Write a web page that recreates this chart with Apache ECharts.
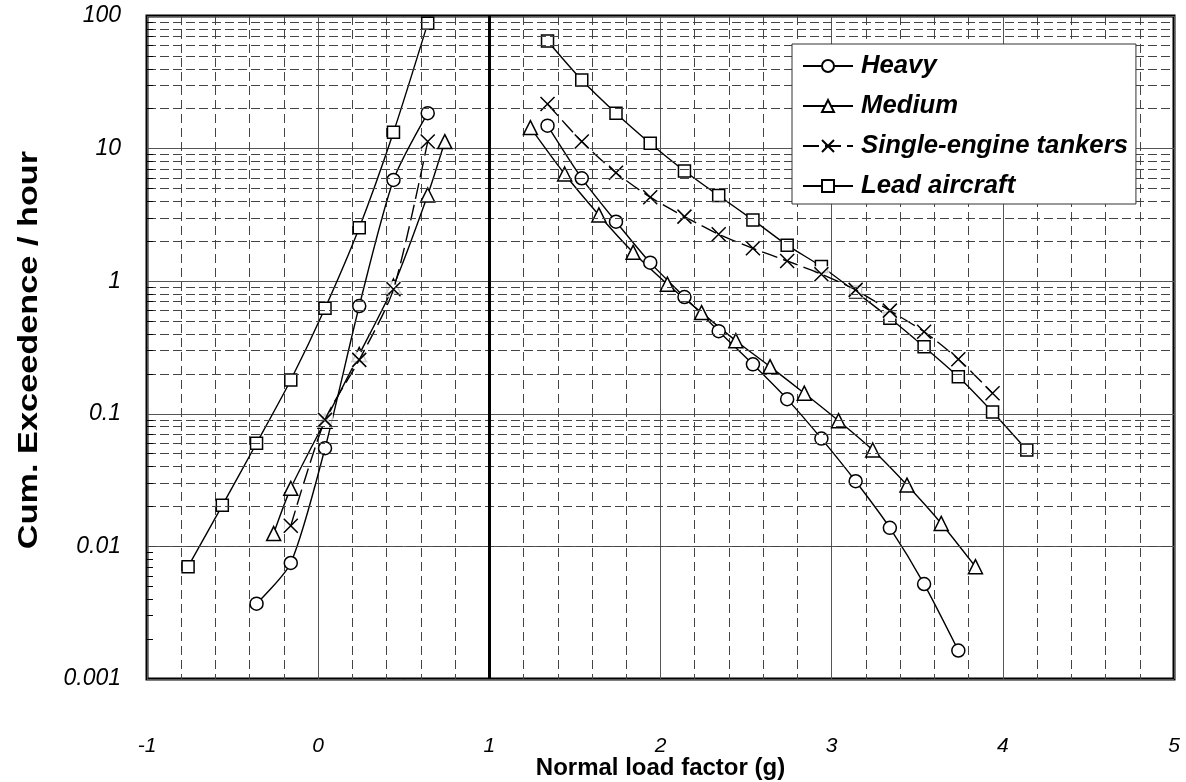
<!DOCTYPE html>
<html>
<head>
<meta charset="utf-8">
<script src="https://cdn.jsdelivr.net/npm/echarts@6/dist/echarts.min.js"></script>
<style>
html,body{margin:0;padding:0;background:#fff;}
#chart{width:1186px;height:782px;}
</style>
</head>
<body>
<div id="chart"></div>
<script>
// ---- Data ----
const seriesNames = ['Heavy', 'Medium', 'Single-engine tankers', 'Lead aircraft'];

const heavyLeftX  = [-0.36, -0.16, 0.04, 0.24, 0.44, 0.64];
const heavyLeftY  = [0.0037, 0.0075, 0.055, 0.65, 5.8, 18.5];
const heavyRightX = [1.34, 1.54, 1.74, 1.94, 2.14, 2.34, 2.54, 2.74, 2.94, 3.14, 3.34, 3.54, 3.74];
const heavyRightY = [14.9, 5.97, 2.81, 1.38, 0.76, 0.42, 0.236, 0.129, 0.065, 0.031, 0.0138, 0.0052, 0.00164];

const mediumLeftX  = [-0.26, -0.16, 0.04, 0.24, 0.44, 0.64, 0.74];
const mediumLeftY  = [0.0125, 0.0274, 0.088, 0.28, 0.92, 4.47, 11.3];
const mediumRightX = [1.24, 1.44, 1.64, 1.84, 2.04, 2.24, 2.44, 2.64, 2.84, 3.04, 3.24, 3.44, 3.64, 3.84];
const mediumRightY = [14.4, 6.43, 3.16, 1.65, 0.95, 0.58, 0.356, 0.227, 0.143, 0.0887, 0.0533, 0.029, 0.0149, 0.00703];

const tankerLeftX  = [-0.16, 0.04, 0.24, 0.44, 0.64];
const tankerLeftY  = [0.0143, 0.09, 0.255, 0.87, 11.3];
const tankerRightX = [1.34, 1.54, 1.74, 1.94, 2.14, 2.34, 2.54, 2.74, 2.94, 3.14, 3.34, 3.54, 3.74, 3.94];
const tankerRightY = [21.7, 11.3, 6.58, 4.3, 3.07, 2.26, 1.77, 1.42, 1.13, 0.86, 0.6, 0.416, 0.258, 0.143];

const leadLeftX  = [-0.76, -0.56, -0.36, -0.16, 0.04, 0.24, 0.44, 0.64];
const leadLeftY  = [0.00703, 0.0204, 0.06, 0.18, 0.625, 2.53, 13.3, 88];
const leadRightX = [1.34, 1.54, 1.74, 1.94, 2.14, 2.34, 2.54, 2.74, 2.94, 3.14, 3.34, 3.54, 3.74, 3.94, 4.14];
const leadRightY = [64.8, 32.9, 18.5, 10.96, 6.78, 4.42, 2.9, 1.87, 1.29, 0.83, 0.525, 0.32, 0.19, 0.103, 0.0533];

const xTickLabels = ['-1', '0', '1', '2', '3', '4', '5'];
const yTickValues = [0.001, 0.01, 0.1, 1, 10, 100];
const yTickLabels = ['0.001', '0.01', '0.1', '1', '10', '100'];
const xTitle = 'Normal load factor (g)';
const yTitle = 'Cum. Exceedence / hour';

// ---- Helpers ----
function pairs(xs, ys) { return xs.map((x, i) => [x, ys[i]]); }

// minor log grid values (2..9 per decade)
const minorY = [];
for (let d = 0; d < yTickValues.length - 1; d++) {
  for (let m = 2; m <= 9; m++) minorY.push(+(yTickValues[d] * m).toPrecision(3));
}

const FONT = '"Liberation Sans", Arial, sans-serif';
const CROSS = 'path://M0,0L10,10M10,0L0,10';
const lineBase = { color: '#000', width: 1.4 };
const markerStyle = { color: '#fff', borderColor: '#000', borderWidth: 1.5 };
const SMOOTH = 0.25;

function mkLine(name, data, symbol, size, dashed, z) {
  return {
    name: name, type: 'line', data: data, smooth: SMOOTH,
    symbol: symbol, symbolSize: size, showAllSymbol: true,
    lineStyle: Object.assign({}, lineBase, dashed ? { type: [16, 6] } : { type: 'solid' }),
    itemStyle: symbol === CROSS ? { color: 'none', borderColor: '#000', borderWidth: 1.5 } : markerStyle,
    emphasis: { disabled: true }, z: z, animation: false
  };
}

const tankerAll = pairs(tankerLeftX, tankerLeftY).concat(pairs(tankerRightX, tankerRightY));

const option = {
  backgroundColor: '#fff',
  animation: false,
  grid: { left: 147, right: 12, top: 16, bottom: 103, show: true, borderColor: '#000', borderWidth: 3,
    backgroundColor: 'transparent', containLabel: false, outerBoundsMode: 'none' },
  legend: {
    data: seriesNames,
    orient: 'vertical', left: 792, top: 44,
    backgroundColor: '#fff', borderColor: '#333', borderWidth: 1,
    padding: [9, 8, 5, 10], itemGap: 14, itemWidth: 50, itemHeight: 15,
    textStyle: { fontFamily: FONT, fontSize: 25.7, fontWeight: 'bold', fontStyle: 'italic', color: '#000', padding: [0, 0, 0, 3] },
    selectedMode: false, z: 10
  },
  graphic: [{
    type: 'text', x: 30, y: 350, rotation: Math.PI / 2, scaleX: 1.27, silent: true, z: 10,
    style: { text: yTitle, font: 'bold 27px ' + FONT, fill: '#000', align: 'center', verticalAlign: 'middle' }
  }],
  xAxis: {
    type: 'value', min: -1, max: 5, interval: 1,
    name: xTitle, nameLocation: 'middle', nameGap: 77, nameMoveOverlap: false,
    nameTextStyle: { fontFamily: FONT, fontSize: 24, fontWeight: 'bold', color: '#000' },
    axisLine: { show: false }, axisTick: { show: false },
    axisLabel: { margin: 57, fontFamily: FONT, fontSize: 21, fontStyle: 'italic', color: '#000',
      formatter: v => xTickLabels[Math.round(v) + 1] },
    splitLine: { show: true, lineStyle: { color: '#555', width: 1 } },
    minorTick: { show: false, splitNumber: 5 },
    minorSplitLine: { show: true, lineStyle: { color: '#444', width: 1, type: [9, 5] } }
  },
  yAxis: {
    type: 'log', logBase: 10, min: 0.001, max: 100, splitNumber: 5,
    axisLine: { show: false }, axisTick: { show: false },
    axisLabel: { margin: 26, fontFamily: FONT, fontSize: 23, fontStyle: 'italic', color: '#000',
      formatter: v => { const i = yTickValues.findIndex(t => Math.abs(Math.log10(t) - Math.log10(v)) < 1e-6); return i >= 0 ? yTickLabels[i] : ''; } },
    splitLine: { show: true, lineStyle: { color: '#555', width: 1 } }
  },
  series: [
    {
      type: 'line', data: [], silent: true, z: 1, animation: false,
      markLine: {
        silent: true, symbol: 'none', label: { show: false }, animation: false,
        data: minorY.map(v => ({ yAxis: v, lineStyle: { color: '#444', width: 1, type: [9, 4] } }))
          .concat(minorY.map(v => [{ coord: [-1, v], lineStyle: { color: '#000', width: 1, type: 'solid' } }, { coord: [-0.965, v] }]))
          .concat([{ xAxis: 1, lineStyle: { color: '#000', width: 3, type: 'solid' } }])
      }
    },
    mkLine('Heavy', pairs(heavyLeftX, heavyLeftY), 'circle', 13, false, 2),
    mkLine('Heavy', pairs(heavyRightX, heavyRightY), 'circle', 13, false, 2),
    mkLine('Medium', pairs(mediumLeftX, mediumLeftY), 'triangle', 14, false, 2),
    mkLine('Medium', pairs(mediumRightX, mediumRightY), 'triangle', 14, false, 2),
    mkLine('Lead aircraft', pairs(leadLeftX, leadLeftY), 'rect', 12, false, 2),
    mkLine('Lead aircraft', pairs(leadRightX, leadRightY), 'rect', 12, false, 2),
    {
      name: 'xbox', type: 'scatter', data: tankerAll, symbol: 'rect', symbolSize: 16,
      itemStyle: { color: '#fff' }, silent: true, z: 3, animation: false
    },
    mkLine('Single-engine tankers', pairs(tankerLeftX, tankerLeftY), CROSS, 14, true, 4),
    mkLine('Single-engine tankers', pairs(tankerRightX, tankerRightY), CROSS, 14, true, 4)
  ]
};

const chart = echarts.init(document.getElementById('chart'), null, { renderer: 'canvas' });
chart.setOption(option);
</script>
</body>
</html>
